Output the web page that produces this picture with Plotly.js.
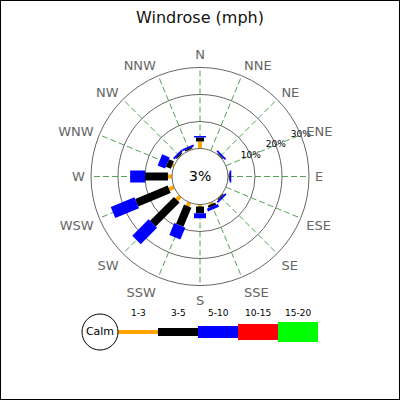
<!DOCTYPE html>
<html>
<head>
<meta charset="utf-8">
<script src="https://cdn.plot.ly/plotly-3.0.1.min.js"></script>
<style>
  html, body { margin: 0; padding: 0; background: #fff; }
  #wrap { position: relative; width: 400px; height: 400px; }
  #rose { width: 400px; height: 400px; }
  #frame { position: absolute; left: 0; top: 0; width: 400px; height: 400px;
           box-sizing: border-box; border: 1px solid #000; pointer-events: none; }
</style>
</head>
<body>
<div id="wrap">
  <div id="rose"></div>
  <div id="frame"></div>
</div>
<script>
// -----------------------
// Data (percent per direction, per speed range)
// -----------------------
const directions = ["N","NNE","NE","ENE","E","ESE","SE","SSE","S","SSW","SW","WSW","W","WNW","NW","NNW"];
const speedRanges = ["1-3", "3-5", "5-10", "10-15", "15-20"];

const pct1to3   = [2.6, 0, 0.2, 0, 0.3, 0, 0.2, 0.7, 0.7, 1.5, 1.8, 2.0, 1.5, 0.7, 0.3, 0.3];
const pct3to5   = [1.5, 0, 0.3, 0, 0.3, 0, 0.4, 0.9, 2.5, 7.7, 12.5, 13.0, 8.5, 2.0, 0.5, 0.5];
const pct5to10  = [0.5, 0, 0.6, 0, 0.6, 0, 0.7, 1.1, 1.9, 4.8, 8.6, 9.5, 5.5, 3.0, 0.7, 0.7];
const pct10to15 = [0, 0, 0, 0, 0, 0, 0, 0, 0, 0, 0, 0, 0, 0, 0, 0];
const pct15to20 = [0, 0, 0, 0, 0, 0, 0, 0, 0, 0, 0, 0, 0, 0, 0, 0];

const calmPct = 3;
const radialTicks = [10, 20, 30];
const radialLabelDir = "ENE";

// -----------------------
// Styles
// -----------------------
const rangeColors = ["#ffa500", "#000000", "#0000ff", "#ff0000", "#00ff00"];
const rangeWidths = [4, 8, 12, 16, 20];
const FONT = "DejaVu Sans, Verdana, sans-serif";

// -----------------------
// Build rose segments (stacked per direction)
// -----------------------
const series = [pct1to3, pct3to5, pct5to10, pct10to15, pct15to20];
const cum = directions.map(() => 0);
const traces = [];

series.forEach((vals, k) => {
  const r = [], th = [];
  directions.forEach((d, i) => {
    const start = cum[i];
    const end = start + vals[i];
    cum[i] = end;
    r.push(start, end, null);
    th.push(d, d, d);
  });
  traces.push({
    type: "scatterpolar",
    mode: "lines",
    r: r,
    theta: th,
    line: { color: rangeColors[k], width: rangeWidths[k] },
    connectgaps: false,
    hoverinfo: "skip",
    showlegend: false
  });
});

// radial scale labels, centred on the rings along one direction
traces.push({
  type: "scatterpolar",
  mode: "text",
  r: radialTicks,
  theta: radialTicks.map(() => radialLabelDir),
  text: radialTicks.map(v => v + "%"),
  textposition: "middle center",
  textfont: { family: FONT, size: 9, color: "#000" },
  hoverinfo: "skip",
  showlegend: false
});

// -----------------------
// Legend (bottom) on its own cartesian axes
// -----------------------
speedRanges.forEach((lab, k) => {
  traces.push({
    type: "scatter",
    mode: "lines",
    x: [k, k + 1],
    y: [0, 0],
    xaxis: "x2",
    yaxis: "y2",
    line: { color: rangeColors[k], width: rangeWidths[k] },
    hoverinfo: "skip",
    showlegend: false
  });
});

traces.push({
  type: "scatter",
  mode: "markers+text",
  x: [-0.45],
  y: [0],
  xaxis: "x2",
  yaxis: "y2",
  text: ["Calm"],
  textposition: "middle center",
  textfont: { family: FONT, size: 11, color: "#000" },
  marker: { size: 36, color: "#fff", line: { color: "#000", width: 1 } },
  hoverinfo: "skip",
  showlegend: false
});

const legendLabels = speedRanges.map((lab, k) => ({
  x: k + 0.5, y: 0.95, xref: "x2", yref: "y2",
  text: lab, showarrow: false,
  font: { family: FONT, size: 9, color: "#000" }
}));

// -----------------------
// Layout
// -----------------------
const layout = {
  width: 400,
  height: 400,
  margin: { l: 0, r: 0, t: 0, b: 0 },
  paper_bgcolor: "#fff",
  showlegend: false,
  title: {
    text: "Windrose (mph)",
    x: 0.5, xanchor: "center",
    y: 1 - 17 / 400, yanchor: "middle",
    font: { family: FONT, size: 16, color: "#111" }
  },
  polar: {
    domain: { x: [0.2275, 0.7725], y: [0.28625, 0.83125] },
    hole: 0.257,
    bgcolor: "rgba(0,0,0,0)",
    angularaxis: {
      type: "category",
      categoryarray: directions,
      direction: "clockwise",
      rotation: 90,
      showline: true,
      linecolor: "#666",
      linewidth: 1,
      showgrid: true,
      gridcolor: "#55a055",
      griddash: "6px,3px",
      gridwidth: 1,
      ticks: "outside",
      ticklen: 3,
      tickcolor: "rgba(0,0,0,0)",
      tickfont: { family: FONT, size: 13, color: "#666" }
    },
    radialaxis: {
      range: [0, 30],
      angle: 22.5,
      showline: false,
      ticks: "",
      showticklabels: false,
      tickvals: [0].concat(radialTicks),
      showgrid: true,
      gridcolor: "#666",
      gridwidth: 1
    }
  },
  xaxis2: {
    domain: [0.2, 0.8], range: [-0.95, 5.05],
    visible: false, fixedrange: true
  },
  yaxis2: {
    domain: [0.12, 0.22], range: [-1, 1],
    visible: false, fixedrange: true
  },
  annotations: [
    {
      x: 0.5, y: 1 - 176.5 / 400, xref: "paper", yref: "paper",
      text: calmPct + "%", showarrow: false,
      font: { family: FONT, size: 14, color: "#000" }
    }
  ].concat(legendLabels)
};

Plotly.newPlot("rose", traces, layout, { staticPlot: true, displayModeBar: false });
</script>
</body>
</html>
